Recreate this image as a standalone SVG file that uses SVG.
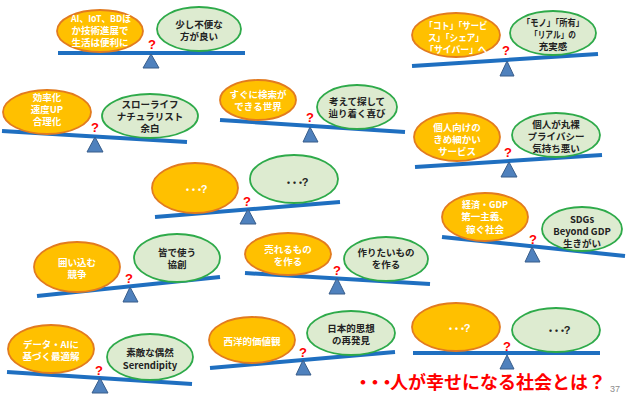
<svg xmlns="http://www.w3.org/2000/svg" width="628" height="403" viewBox="0 0 628 403">
  <style>
    .o { fill: #FFC000; stroke: #E27B1F; stroke-width: 1.8; }
    .g { fill: #DDEBD0; stroke: #2EAA4A; stroke-width: 1.8; }
    .beam { stroke: #1F6FC0; stroke-width: 4; fill: none; }
    .ful { fill: #4F81BD; stroke: #385D8A; stroke-width: 1; }
    .q { font-family: "Liberation Sans", Arial, sans-serif; font-weight: bold; font-size: 13px; fill: #FF0000; text-anchor: middle; }
    .t { font-family: "Noto Sans CJK JP", "Liberation Sans", sans-serif; font-weight: bold; font-size: 9.5px; text-anchor: middle; }
    .tw { fill: #FFFFFF; }
    .tb { fill: #222222; }
    .dots { letter-spacing: -3.5px; }
    .qm { font-family: "Liberation Sans", Arial, sans-serif; font-size: 11px; }
    .big { font-family: "Noto Sans CJK JP", "Liberation Sans", sans-serif; font-weight: bold; font-size: 18px; fill: #FF0000; }
    .bigdots { letter-spacing: -6px; }
    .pg { font-family: "Liberation Sans", Arial, sans-serif; font-size: 9px; fill: #8C8C8C; }
  </style>

  <!-- balance connectors: beams and fulcrums -->
  <g id="connectors">
    <line class="beam" x1="58" y1="53" x2="245" y2="53"/>
    <polygon class="ful" points="151,54 143,68 159,68"/>
    <line class="beam" x1="412" y1="66" x2="598" y2="54"/>
    <polygon class="ful" points="507,61 500,76 514,76"/>
    <line class="beam" x1="2" y1="131" x2="187" y2="142"/>
    <polygon class="ful" points="95,137 87,152 103,152"/>
    <line class="beam" x1="220" y1="120" x2="405" y2="132"/>
    <polygon class="ful" points="310,127 303,142 318,142"/>
    <line class="beam" x1="415" y1="167" x2="602" y2="155"/>
    <polygon class="ful" points="509,162 501,177 517,177"/>
    <line class="beam" x1="155" y1="217" x2="340" y2="202"/>
    <polygon class="ful" points="248,209 240,224 256,224"/>
    <line class="beam" x1="442" y1="237" x2="625" y2="256"/>
    <polygon class="ful" points="532,247 525,262 540,262"/>
    <line class="beam" x1="37" y1="296" x2="220" y2="277"/>
    <polygon class="ful" points="130,287 123,302 138,302"/>
    <line class="beam" x1="245" y1="273" x2="430" y2="284"/>
    <polygon class="ful" points="337,278 329,294 345,294"/>
    <line class="beam" x1="7" y1="372" x2="192" y2="384"/>
    <polygon class="ful" points="100,378 92,393 108,393"/>
    <line class="beam" x1="210" y1="368" x2="395" y2="352"/>
    <polygon class="ful" points="303,360 296,375 311,375"/>
    <line class="beam" x1="413" y1="353" x2="600" y2="353"/>
    <polygon class="ful" points="507,355 500,369 514,369"/>
  </g>

  <!-- question marks on each balance -->
  <g id="marks">
    <text class="q" x="152" y="49">?</text>
    <text class="q" x="506" y="55">?</text>
    <text class="q" x="95" y="132">?</text>
    <text class="q" x="310" y="122">?</text>
    <text class="q" x="508" y="157">?</text>
    <text class="q" x="247" y="206">?</text>
    <text class="q" x="533" y="244">?</text>
    <text class="q" x="129" y="283">?</text>
    <text class="q" x="337" y="275">?</text>
    <text class="q" x="99" y="375">?</text>
    <text class="q" x="303" y="357">?</text>
    <text class="q" x="507" y="351">?</text>
  </g>

  <g id="n1a">
    <ellipse class="o" cx="100" cy="31" rx="43" ry="21"/>
    <text class="t tw" x="101" y="22" textLength="60" lengthAdjust="spacingAndGlyphs">AI、IoT、BDほ</text>
    <text class="t tw" x="100" y="34">か技術進展で</text>
    <text class="t tw" x="100" y="46">生活は便利に</text>
  </g>
  <g id="n1b">
    <ellipse class="g" cx="199" cy="29" rx="42" ry="22"/>
    <text class="t tb" x="199" y="28">少し不便な</text>
    <text class="t tb" x="199" y="40">方が良い</text>
  </g>

  <g id="n2a">
    <ellipse class="o" cx="456" cy="35" rx="44" ry="22"/>
    <text class="t tw" x="456" y="29" textLength="63" lengthAdjust="spacingAndGlyphs">「コト」「サービ</text>
    <text class="t tw" x="456" y="41" textLength="56" lengthAdjust="spacingAndGlyphs">ス」「シェア」</text>
    <text class="t tw" x="456" y="53" textLength="62" lengthAdjust="spacingAndGlyphs">「サイバー」へ</text>
  </g>
  <g id="n2b">
    <ellipse class="g" cx="553" cy="33" rx="43" ry="22"/>
    <text class="t tb" x="553" y="26" textLength="62" lengthAdjust="spacingAndGlyphs">「モノ」「所有」</text>
    <text class="t tb" x="553" y="38" textLength="46" lengthAdjust="spacingAndGlyphs">「リアル」の</text>
    <text class="t tb" x="553" y="50">充実感</text>
  </g>

  <g id="n3a">
    <ellipse class="o" cx="47" cy="112" rx="44" ry="22"/>
    <text class="t tw" x="47" y="101">効率化</text>
    <text class="t tw" x="47" y="113">速度UP</text>
    <text class="t tw" x="47" y="125">合理化</text>
  </g>
  <g id="n3b">
    <ellipse class="g" cx="150" cy="116" rx="48" ry="22"/>
    <text class="t tb" x="150" y="108">スローライフ</text>
    <text class="t tb" x="150" y="120">ナチュラリスト</text>
    <text class="t tb" x="150" y="132">余白</text>
  </g>

  <g id="n4a">
    <ellipse class="o" cx="258" cy="100" rx="38" ry="20"/>
    <text class="t tw" x="258" y="98">すぐに検索が</text>
    <text class="t tw" x="258" y="110">できる世界</text>
  </g>
  <g id="n4b">
    <ellipse class="g" cx="357" cy="107" rx="40" ry="22"/>
    <text class="t tb" x="357" y="105">考えて探して</text>
    <text class="t tb" x="357" y="117">辿り着く喜び</text>
  </g>

  <g id="n5a">
    <ellipse class="o" cx="457" cy="137" rx="43" ry="24"/>
    <text class="t tw" x="457" y="131">個人向けの</text>
    <text class="t tw" x="457" y="143">きめ細かい</text>
    <text class="t tw" x="457" y="155">サービス</text>
  </g>
  <g id="n5b">
    <ellipse class="g" cx="556" cy="135" rx="44" ry="22"/>
    <text class="t tb" x="556" y="128">個人が丸裸</text>
    <text class="t tb" x="556" y="140">プライバシー</text>
    <text class="t tb" x="556" y="152">気持ち悪い</text>
  </g>

  <g id="n6a">
    <ellipse class="o" cx="195" cy="188" rx="43" ry="25"/>
    <text class="t tw" x="195" y="193"><tspan class="dots">・・・</tspan><tspan class="qm">?</tspan></text>
  </g>
  <g id="n6b">
    <ellipse class="g" cx="294" cy="179" rx="44" ry="24"/>
    <text class="t tb" x="296" y="186"><tspan class="dots">・・・</tspan><tspan class="qm">?</tspan></text>
  </g>

  <g id="n7a">
    <ellipse class="o" cx="485" cy="217" rx="43" ry="24"/>
    <text class="t tw" x="485" y="208" textLength="46" lengthAdjust="spacingAndGlyphs">経済・GDP</text>
    <text class="t tw" x="485" y="220">第一主義、</text>
    <text class="t tw" x="485" y="233">稼ぐ社会</text>
  </g>
  <g id="n7b">
    <ellipse class="g" cx="582" cy="229" rx="40" ry="22"/>
    <text class="t tb" x="582" y="223">SDGs</text>
    <text class="t tb" x="582" y="235">Beyond GDP</text>
    <text class="t tb" x="582" y="247">生きがい</text>
  </g>

  <g id="n8a">
    <ellipse class="o" cx="77" cy="267" rx="43" ry="25"/>
    <text class="t tw" x="77" y="266">囲い込む</text>
    <text class="t tw" x="77" y="278">競争</text>
  </g>
  <g id="n8b">
    <ellipse class="g" cx="177" cy="258" rx="43" ry="24"/>
    <text class="t tb" x="177" y="256">皆で使う</text>
    <text class="t tb" x="177" y="268">協創</text>
  </g>

  <g id="n9a">
    <ellipse class="o" cx="288" cy="254" rx="43" ry="21"/>
    <text class="t tw" x="288" y="253">売れるもの</text>
    <text class="t tw" x="288" y="265">を作る</text>
  </g>
  <g id="n9b">
    <ellipse class="g" cx="386" cy="259" rx="42" ry="22"/>
    <text class="t tb" x="386" y="256">作りたいもの</text>
    <text class="t tb" x="386" y="268">を作る</text>
  </g>

  <g id="n10a">
    <ellipse class="o" cx="51" cy="349" rx="43" ry="24"/>
    <text class="t tw" x="51" y="348" textLength="56" lengthAdjust="spacingAndGlyphs">データ・AIに</text>
    <text class="t tw" x="51" y="360">基づく最適解</text>
  </g>
  <g id="n10b">
    <ellipse class="g" cx="150" cy="357" rx="43" ry="23"/>
    <text class="t tb" x="150" y="356">素敵な偶然</text>
    <text class="t tb" x="150" y="369">Serendipity</text>
  </g>

  <g id="n11a">
    <ellipse class="o" cx="252" cy="340" rx="43" ry="23"/>
    <text class="t tw" x="252" y="345">西洋的価値観</text>
  </g>
  <g id="n11b">
    <ellipse class="g" cx="351" cy="333" rx="44" ry="22"/>
    <text class="t tb" x="351" y="332">日本的思想</text>
    <text class="t tb" x="351" y="344">の再発見</text>
  </g>

  <g id="n12a">
    <ellipse class="o" cx="456" cy="327" rx="44" ry="24"/>
    <text class="t tw" x="458" y="332"><tspan class="dots">・・・</tspan><tspan class="qm">?</tspan></text>
  </g>
  <g id="n12b">
    <ellipse class="g" cx="556" cy="330" rx="44" ry="22"/>
    <text class="t tb" x="558" y="334"><tspan class="dots">・・・</tspan><tspan class="qm">?</tspan></text>
  </g>

  <text class="big" x="354" y="389"><tspan class="bigdots">・・・</tspan>人が幸せになる社会とは？</text>
  <text class="pg" x="610" y="392">37</text>
</svg>
